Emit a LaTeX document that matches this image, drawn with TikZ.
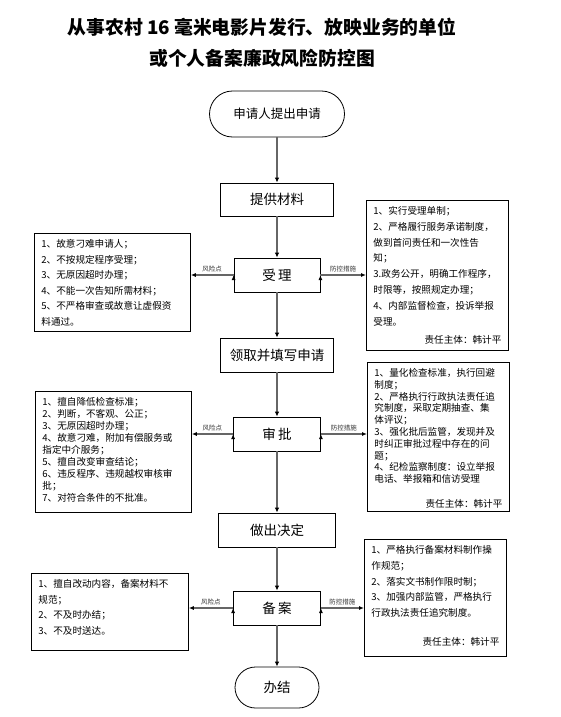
\documentclass[tikz,border=0pt]{standalone}
\usepackage{fontspec}
\setmainfont{Noto Sans CJK SC}
\usetikzlibrary{arrows.meta}

\newcommand{\sidetext}[3]{\parbox[t][#2][t]{#1}{\raggedright #3}}

\begin{document}
\begin{tikzpicture}[x=1pt,y=-1pt,
  flowbox/.style={draw=black,line width=0.8pt,inner sep=0pt,font=\fontsize{13.5}{15}\selectfont},
  sidebox/.style={draw=black,line width=0.8pt,anchor=north west,inner xsep=7pt,inner ysep=6pt},
  flowline/.style={draw=black!60,line width=1.6pt,-{Latex[length=5pt,width=4.5pt,color=black]}},
  riskline/.style={draw=black!60,line width=1.2pt,-{Latex[length=5pt,width=4pt,color=black]}},
  steplabel/.style={above,font=\fontsize{6.5}{7}\selectfont,inner sep=2pt,text=black!80}
]
    \useasboundingbox (0,0) rectangle (560,717);

    \node[font=\fontsize{18.8}{20}\selectfont\bfseries] (title1) at (262,27) {从事农村 16 毫米电影片发行、放映业务的单位};
    \node[font=\fontsize{18.8}{20}\selectfont\bfseries] (title2) at (262,58) {或个人备案廉政风险防控图};

    \node[flowbox,rounded corners=23pt,minimum width=135pt,minimum height=46pt,font=\fontsize{12.5}{14}\selectfont] (start) at (277,114) {申请人提出申请};
    \node[flowbox,minimum width=113pt,minimum height=33pt] (supply) at (277,199.5) {提供材料};
    \node[flowbox,minimum width=86pt,minimum height=34pt] (accept) at (277,275) {受\,理};
    \node[flowbox,minimum width=113pt,minimum height=34pt] (fill) at (277,355) {领取并填写申请};
    \node[flowbox,minimum width=87pt,minimum height=34pt] (approve) at (277,434) {审\,批};
    \node[flowbox,minimum width=117pt,minimum height=34pt] (decide) at (277,530) {做出决定};
    \node[flowbox,minimum width=87pt,minimum height=34pt] (record) at (277,608) {备\,案};
    \node[flowbox,rounded corners=20.5pt,minimum width=84pt,minimum height=41pt] (finish) at (277,687.5) {办结};

    % risk points, left
    \node[sidebox,font=\fontsize{9.6}{15.5}\selectfont] (risk1) at (34,233) {\sidetext{142pt}{86pt}{%
      1、故意刁难申请人；\\
      2、不按规定程序受理；\\
      3、无原因超时办理；\\
      4、不能一次告知所需材料；\\
      5、不严格审查或故意让虚假资\\
      料通过。}};
    \node[sidebox,font=\fontsize{9.6}{12}\selectfont] (risk2) at (35,391) {\sidetext{142pt}{109pt}{%
      1、擅自降低检查标准；\\
      2、判断，不客观、公正；\\
      3、无原因超时办理；\\
      4、故意刁难，附加有偿服务或\\
      指定中介服务；\\
      5、擅自改变审查结论；\\
      6、违反程序、违规越权审核审\\
      批；\\
      7、对符合条件的不批准。}};
    \node[sidebox,font=\fontsize{9.6}{15.5}\selectfont] (risk3) at (31,573) {\sidetext{143pt}{65pt}{%
      1、擅自改动内容，备案材料不\\
      规范；\\
      2、不及时办结；\\
      3、不及时送达。}};

    % control measures, right
    \node[sidebox,font=\fontsize{9.6}{15.8}\selectfont] (measure1) at (366,200) {\sidetext{128pt}{138pt}{%
      1、实行受理单制；\\
      2、严格履行服务承诺制度，\\
      做到首问责任和一次性告\\
      知；\\
      3.政务公开，明确工作程序，\\
      时限等，按照规定办理；\\
      4、内部监督检查，投诉举报\\
      受理。\\[3pt]
      \hspace*{\fill}责任主体：韩计平}};
    \node[sidebox,font=\fontsize{9.6}{11.8}\selectfont] (measure2) at (367,362) {\sidetext{128pt}{137pt}{%
      1、量化检查标准，执行回避\\
      制度；\\
      2、严格执行行政执法责任追\\
      究制度，采取定期抽查、集\\
      体评议；\\
      3、强化批后监管，发现并及\\
      时纠正审批过程中存在的问\\
      题；\\
      4、纪检监察制度：设立举报\\
      电话、举报箱和信访受理\\[13pt]
      \hspace*{\fill}责任主体：韩计平}};
    \node[sidebox,font=\fontsize{9.6}{15.8}\selectfont] (measure3) at (364,539) {\sidetext{128pt}{105pt}{%
      1、严格执行备案材料制作操\\
      作规范；\\
      2、落实文书制作限时制；\\
      3、加强内部监管，严格执行\\
      行政执法责任追究制度。\\[13pt]
      \hspace*{\fill}责任主体：韩计平}};

    \path [flowline] (start) edge (supply);
    \path [flowline] (supply) edge (accept);
    \path [flowline] (accept) edge (fill);
    \path [flowline] (fill) edge (approve);
    \path [flowline] (approve) edge (decide);
    \path [flowline] (decide) edge (record);
    \path [flowline] (record) edge (finish);

    \path [riskline] (accept.west) edge node[steplabel] {风险点} (accept.west -| risk1.east);
    \path [riskline] (accept.east) edge node[steplabel] {防控措施} (accept.east -| measure1.west);
    \path [riskline] (approve.west) edge node[steplabel] {风险点} (approve.west -| risk2.east);
    \path [riskline] (approve.east) edge node[steplabel] {防控措施} (approve.east -| measure2.west);
    \path [riskline] (record.west) edge node[steplabel] {风险点} (record.west -| risk3.east);
    \path [riskline] (record.east) edge node[steplabel] {防控措施} (record.east -| measure3.west);
\end{tikzpicture}
\end{document}
